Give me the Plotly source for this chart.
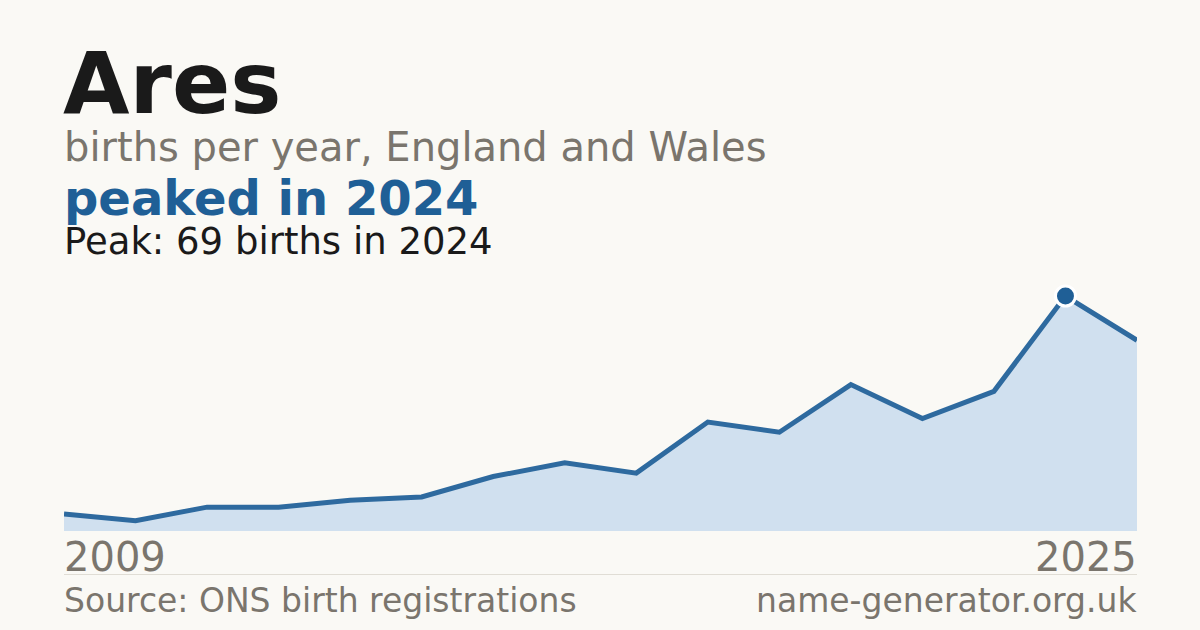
import plotly.graph_objects as go

# ---- data ----
years = ["2009", "2011", "2012", "2013", "2014", "2015", "2016", "2017",
         "2018", "2019", "2020", "2021", "2022", "2023", "2024", "2025"]
births = [5, 3, 7, 7, 9, 10, 16, 20, 17, 32, 29, 43, 33, 41, 69, 56]
peak_year = "2024"
peak_value = 69
tick_labels = ["2009", "2025"]

title_text = "Ares"
subtitle_text = "births per year, England and Wales"
headline_text = "peaked in 2024"
peak_text = "Peak: 69 births in 2024"
source_text = "Source: ONS birth registrations"
site_text = "name-generator.org.uk"

BG = "#faf9f5"
DARK = "#1a1a1a"
GREY = "#7a756d"
BLUE = "#1f5f96"
LINE = "#2e6a9f"
FILL = "#d0e0ef"
FONT = "DejaVu Sans"

W, H = 1200, 630
L, R = 64, 1137
Y_BOTTOM, Y_TOP = 531, 270

fig = go.Figure()
fig.add_trace(go.Scatter(
    x=years, y=births, mode="lines",
    line=dict(color=LINE, width=5),
    fill="tozeroy", fillcolor=FILL,
    hoverinfo="skip", showlegend=False,
))
fig.add_trace(go.Scatter(
    x=[peak_year], y=[peak_value], mode="markers",
    marker=dict(size=20, color=BLUE, line=dict(color="white", width=3)),
    hoverinfo="skip", showlegend=False, cliponaxis=False,
))

ymax = peak_value * (Y_BOTTOM - Y_TOP) / (Y_BOTTOM - 296)

fig.update_layout(
    width=W, height=H,
    paper_bgcolor=BG, plot_bgcolor=BG,
    margin=dict(l=L, r=W - R, t=0, b=0),
    font=dict(family=FONT),
    xaxis=dict(type="category", range=[0, len(years) - 1],
               showgrid=False, zeroline=False, showticklabels=False,
               showline=False, fixedrange=True),
    yaxis=dict(range=[0, ymax], showgrid=False, zeroline=False,
               showticklabels=False, showline=False, fixedrange=True,
               domain=[(H - Y_BOTTOM) / H, (H - Y_TOP) / H]),
)

def ann(text, x, y, size, color, xanchor="left", bold=False):
    fig.add_annotation(
        text=f"<b>{text}</b>" if bold else text,
        xref="paper", yref="paper", x=x, y=y,
        xanchor=xanchor, yanchor="bottom", showarrow=False,
        font=dict(family=FONT, size=size, color=color),
    )

def py(pix):
    return (H - pix) / H

def px_x(pix):
    return (pix - L) / (R - L)

ann(title_text, px_x(61), py(135), 86, DARK, bold=True)
ann(subtitle_text, px_x(62), py(172), 40, GREY)

# headline + peak line as one two-line text block (line pitch 1.3 x 30px = 39px)
fig.add_annotation(
    text=(f"<span style='font-size:48px;color:{BLUE}'><b>{headline_text}</b></span>"
          f"<br><span style='font-size:37px;color:{DARK}'>{peak_text}</span>"),
    xref="paper", yref="paper", x=px_x(62), y=py(265),
    xanchor="left", yanchor="bottom", align="left", showarrow=False,
    font=dict(family=FONT, size=30, color=DARK),
)

ann(tick_labels[0], px_x(62), py(582), 40, GREY)
ann(tick_labels[1], px_x(1139), py(582), 40, GREY, xanchor="right")
ann(source_text, px_x(62), py(622), 33, GREY)
ann(site_text, px_x(1139), py(622), 33, GREY, xanchor="right")

fig.add_shape(type="line", xref="paper", yref="paper",
              x0=0, x1=1, y0=py(574.5), y1=py(574.5),
              line=dict(color="#e0ddd5", width=1))

fig.write_html(
    "out.html",
    config={"displayModeBar": False, "staticPlot": True},
    post_script="document.body.style.margin='0';document.body.style.background='%s';" % BG,
)
